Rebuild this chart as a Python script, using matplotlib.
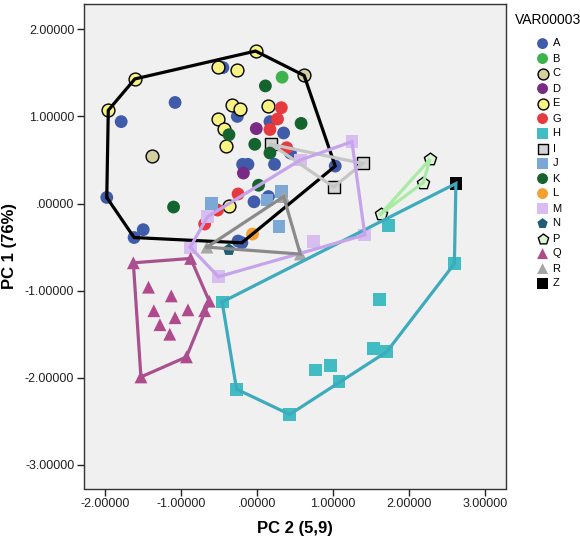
"""PCA score plot (PC 1 vs PC 2) with convex hulls per group"""

import numpy as np
import matplotlib
matplotlib.use("Agg")
import matplotlib.pyplot as plt

plt.rcParams['font.family'] = ['Liberation Sans', 'DejaVu Sans']

# group scores: (PC 2, PC 1)
A = [(-1.08, 1.16), (-1.79, 0.94), (-0.26, 1.00), (0.17, 0.94), (0.35, 0.81),
     (-0.19, 0.45), (-0.12, 0.45), (0.23, 0.45), (-0.04, 0.02), (0.15, 0.08),
     (1.03, 0.43), (-0.25, -0.43), (-1.62, -0.39), (-1.50, -0.30),
     (-1.98, 0.07), (0.44, 0.58), (-0.45, 1.56), (-0.20, -0.45)]
B = [(0.33, 1.45)]
C = [(0.62, 1.47), (-1.38, 0.545)]
D = [(-0.01, 0.86), (-0.18, 0.35)]
E = [(-1.96, 1.07), (-1.61, 1.43), (-0.02, 1.75), (-0.51, 1.57), (-0.27, 1.53),
     (-0.33, 1.13), (-0.22, 1.08), (0.14, 1.12), (-0.52, 0.97), (-0.44, 0.86),
     (-0.41, 0.66), (-0.37, -0.025)]
G = [(0.32, 1.10), (0.27, 0.97), (0.17, 0.85), (0.39, 0.64), (-0.25, 0.11),
     (-0.52, -0.075), (-0.69, -0.235)]
H = [(-0.46, -1.13), (-0.27, -2.13), (0.43, -2.42), (0.77, -1.91), (0.97, -1.86),
     (1.08, -2.04), (1.53, -1.66), (1.71, -1.70), (1.61, -1.10), (2.60, -0.69),
     (1.73, -0.25), (2.62, 0.23)]
I = [(0.185, 0.68), (1.39, 0.46), (1.01, 0.19)]
J = [(-0.60, 0.00), (0.32, 0.14), (0.29, -0.26), (0.13, 0.04)]
K = [(0.11, 1.35), (0.58, 0.92), (-0.37, 0.79), (-0.03, 0.68), (0.17, 0.58),
     (0.02, 0.21), (-1.10, -0.04)]
L = [(-0.06, -0.35)]
M = [(-0.88, -0.50), (-0.65, -0.15), (0.57, 0.50), (1.25, 0.71), (1.42, -0.36),
     (0.74, -0.44), (-0.51, -0.84)]
N = [(-0.37, -0.53)]
P = [(2.28, 0.51), (2.19, 0.24), (1.63, -0.12)]
Q = [(-1.63, -0.68), (-0.875, -0.63), (-1.43, -0.96), (-1.13, -1.06),
     (-1.36, -1.23), (-0.91, -1.22), (-1.08, -1.31), (-1.28, -1.39),
     (-1.15, -1.50), (-0.63, -1.12), (-0.69, -1.23), (-0.93, -1.76),
     (-1.53, -1.99)]
R = [(-0.66, -0.50), (0.35, 0.08), (0.57, -0.58)]
Z = [(2.62, 0.23)]

groups = {"A": A, "B": B, "C": C, "D": D, "E": E, "G": G, "H": H, "I": I,
          "J": J, "K": K, "L": L, "M": M, "N": N, "P": P, "Q": Q, "R": R,
          "Z": Z}

# marker, face colour, edge colour
styles = {
    "A": ("o", "#3F5BA9", "none"),
    "B": ("o", "#3CB44B", "none"),
    "C": ("o", "#D3CF9E", "black"),
    "D": ("o", "#782A84", "none"),
    "E": ("o", "#F8F283", "black"),
    "G": ("o", "#E63A3F", "none"),
    "H": ("s", "#40BCC2", "none"),
    "I": ("s", "#D4D4D4", "black"),
    "J": ("s", "#7CA8D8", "none"),
    "K": ("o", "#15642F", "none"),
    "L": ("o", "#F4A030", "none"),
    "M": ("s", "#D8BEF0", "none"),
    "N": ("p", "#1E5D74", "none"),
    "P": ("p", "#DDF3D6", "black"),
    "Q": ("^", "#B04A8C", "none"),
    "R": ("^", "#A6A6A6", "none"),
    "Z": ("s", "#000000", "none"),
}

hulls = [
    (["A", "B", "C", "D", "E", "G", "K"], "#000000"),
    (["H"], "#3DAABD"),
    (["I"], "#C6C6C6"),
    (["M"], "#C6A4EC"),
    (["P"], "#A8EBA2"),
    (["Q"], "#A9508F"),
    (["R"], "#8A8A8A"),
]

x_ticks = [-2, -1, 0, 1, 2, 3]
x_tick_labels = ["-2.00000", "-1.00000", ".00000", "1.00000", "2.00000",
                 "3.00000"]
y_ticks = [2, 1, 0, -1, -2, -3]
y_tick_labels = ["2.00000", "1.00000", ".00000", "-1.00000", "-2.00000",
                 "-3.00000"]


def convex_hull(pts):
    """Monotone chain hull, returns closed ring"""
    pts = sorted(set(map(tuple, pts)))
    if len(pts) < 3:
        return np.array(pts + pts[:1])

    def cross(o, a, b):
        return (a[0] - o[0]) * (b[1] - o[1]) - (a[1] - o[1]) * (b[0] - o[0])

    lower, upper = [], []
    for p in pts:
        while len(lower) >= 2 and cross(lower[-2], lower[-1], p) <= 0:
            lower.pop()
        lower.append(p)
    for p in reversed(pts):
        while len(upper) >= 2 and cross(upper[-2], upper[-1], p) <= 0:
            upper.pop()
        upper.append(p)
    ring = lower[:-1] + upper[:-1]
    return np.array(ring + ring[:1])


def plot_scores():
    fig = plt.figure(figsize=(5.8, 5.41), dpi=100)
    ax = fig.add_axes([84 / 580, 1 - 488.5 / 541, 422 / 580, 484.5 / 541])
    ax.set_facecolor("#F0F0F0")

    handles = []
    for name, pts in groups.items():
        marker, face, edge = styles[name]
        arr = np.array(pts)
        sc = ax.scatter(arr[:, 0], arr[:, 1], s=85, marker=marker, c=face,
                        edgecolors=edge, linewidths=1.0, label=name, zorder=2)
        handles.append(sc)

    for names, color in hulls:
        pts = [p for n in names for p in groups[n]]
        ring = convex_hull(pts)
        ax.plot(ring[:, 0], ring[:, 1], color=color, lw=2.3, zorder=3,
                solid_joinstyle="miter")

    ax.set_xlim(-2.28, 3.28)
    ax.set_ylim(-3.27, 2.29)
    ax.set_xticks(x_ticks)
    ax.set_xticklabels(x_tick_labels)
    ax.set_yticks(y_ticks)
    ax.set_yticklabels(y_tick_labels)
    ax.tick_params(direction="out", length=5, width=1, pad=2, labelsize=9,
                   colors="#222222")
    for sp in ax.spines.values():
        sp.set_color("#333333")
        sp.set_linewidth(1.0)

    ax.set_xlabel("PC 2 (5,9)", fontsize=12, fontweight="bold")
    ax.set_ylabel("PC 1 (76%)", fontsize=12, fontweight="bold")
    ax.xaxis.set_label_coords(0.5, -(521 - 488.5) / 484.5)
    ax.yaxis.set_label_coords(-(84 - 17) / 422, 0.5)

    fig.text(515 / 580, 1 - 20 / 541, "VAR00003", fontsize=10,
             va="center", ha="left")
    fig.legend(handles=handles, loc="upper left",
               bbox_to_anchor=(537 / 580, 1 - 38.5 / 541), frameon=False,
               fontsize=8, handlelength=1.0, handletextpad=0.4,
               borderpad=0, borderaxespad=0, labelspacing=0.45,
               markerscale=0.85)

    fig.savefig("out.png", dpi=100)


if __name__ == "__main__":
    plot_scores()
